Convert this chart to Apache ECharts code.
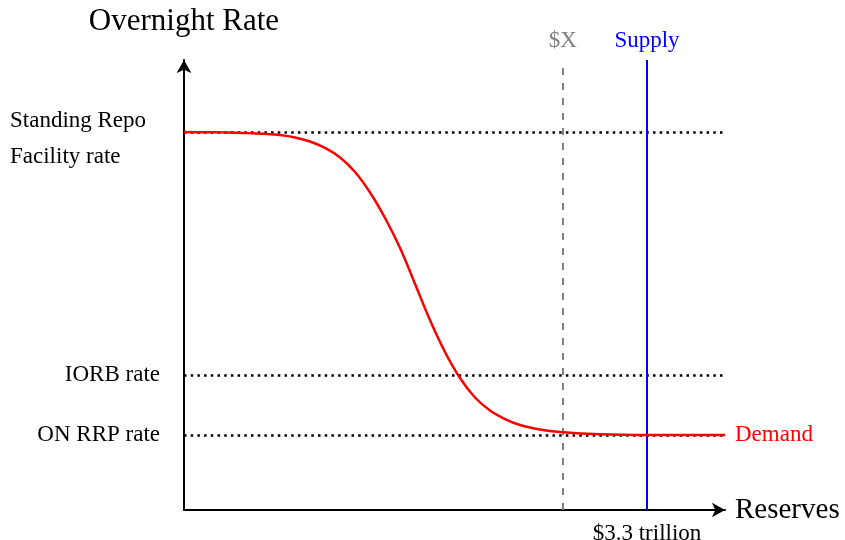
<!DOCTYPE html>
<html><head><meta charset="utf-8">
<script src="https://cdn.jsdelivr.net/npm/echarts@6/dist/echarts.min.js"></script>
<style>html,body{margin:0;padding:0;background:#fff}#c{width:845px;height:540px}</style>
</head><body><div id="c"></div>
<script>
// Demand curve (reserves in $ trillion, rate in arbitrary units)
const demandReserves = [0, 0.150, 0.257, 0.364, 0.470, 0.577, 0.684, 0.791, 0.898, 1.005, 1.112, 1.219, 1.326, 1.433, 1.540, 1.647, 1.753, 1.860, 1.967, 2.074, 2.181, 2.288, 2.395, 2.537, 2.680, 2.965, 3.321, 3.856];
const demandRate     = [5.04, 5.037, 5.035, 5.031, 5.025, 5.016, 5.0, 4.967, 4.913, 4.827, 4.70, 4.507, 4.233, 3.893, 3.493, 3.013, 2.533, 2.107, 1.76, 1.5, 1.327, 1.213, 1.133, 1.073, 1.04, 1.009, 1.0, 1.0];
// Administered rates
const policyRates  = [5.04, 1.8, 1.0];
const policyLabels = ['Standing Repo\nFacility rate', 'IORB rate', 'ON RRP rate'];
// Vertical reference levels
const supplyLevel = 3.3;
const supplyName = 'Supply';
const supplyTick = '$3.3 trillion';
const xLevel = 2.7;
const xName = '$X';
const xMax = 3.856, yMax = 6;

const FONT = 'Liberation Serif';
const chart = echarts.init(document.getElementById('c'));
chart.setOption({
  animation: false,
  backgroundColor: '#fff',
  textStyle: { fontFamily: FONT },
  grid: { left: 184, right: 120, top: 60, bottom: 30, containLabel: false, outerBoundsMode: 'none' },
  xAxis: {
    type: 'value', min: 0, max: xMax,
    name: 'Reserves', nameLocation: 'end', nameGap: 10,
    nameTextStyle: { fontFamily: FONT, fontSize: 29, color: '#000', verticalAlign: 'middle', align: 'left' },
    axisLine: { show: true, symbol: ['none', 'arrow'], symbolSize: [11, 13], symbolOffset: [0, 0], lineStyle: { color: '#000', width: 2 } },
    axisTick: { show: false }, splitLine: { show: false },
    axisLabel: { show: true, customValues: [supplyLevel], formatter: () => supplyTick, margin: 12, fontFamily: FONT, fontSize: 23, color: '#000' }
  },
  yAxis: {
    type: 'value', min: 0, max: yMax,
    name: 'Overnight Rate', nameLocation: 'end', nameGap: 23,
    nameTextStyle: { fontFamily: FONT, fontSize: 31, color: '#000', align: 'center', verticalAlign: 'bottom' },
    axisLine: { show: true, symbol: ['none', 'arrow'], symbolSize: [11, 13], symbolOffset: [0, 0], lineStyle: { color: '#000', width: 2 } },
    axisTick: { show: false }, splitLine: { show: false },
    axisLabel: {
      show: true, customValues: policyRates, margin: 24, align: 'right',
      fontFamily: FONT, fontSize: 23, color: '#000',
      formatter: v => {
        let best = 0;
        policyRates.forEach((r, i) => { if (Math.abs(r - v) < Math.abs(policyRates[best] - v)) best = i; });
        const t = policyLabels[best];
        return t.indexOf('\n') >= 0 ? '{l|' + t + '}' : t;
      },
      rich: { l: { width: 150, align: 'left', lineHeight: 36, fontFamily: FONT, fontSize: 23, color: '#000', padding: [14, 0, 0, 0] } }
    }
  },
  series: [
    {
      type: 'line', data: [], z: 1,
      markLine: {
        silent: true, symbol: ['none', 'none'], z: 1,
        label: { show: false },
        lineStyle: { color: '#000', width: 2.5, type: [2.5, 4.2], cap: 'butt' },
        data: policyRates.map(v => ({ yAxis: v }))
      }
    },
    {
      type: 'line', data: [], z: 2,
      markLine: {
        silent: true, symbol: ['none', 'none'], z: 2,
        data: [
          { xAxis: xLevel, lineStyle: { color: '#808080', width: 2, type: [7, 8] },
            label: { show: true, position: 'end', formatter: xName, color: '#808080', fontFamily: FONT, fontSize: 23, distance: 8 } },
          { xAxis: supplyLevel, lineStyle: { color: '#0000ff', width: 2, type: 'solid' },
            label: { show: true, position: 'end', formatter: supplyName, color: '#0000ff', fontFamily: FONT, fontSize: 23, distance: 8 } }
        ]
      }
    },
    {
      type: 'line', z: 5, smooth: 0.35, showSymbol: false, symbol: 'none',
      data: demandReserves.map((x, i) => [x, demandRate[i]]),
      lineStyle: { color: '#ff0000', width: 2.5 },
      endLabel: { show: true, formatter: 'Demand', color: '#ff0000', fontFamily: FONT, fontSize: 23, distance: 10 }
    }
  ]
});
</script></body></html>
